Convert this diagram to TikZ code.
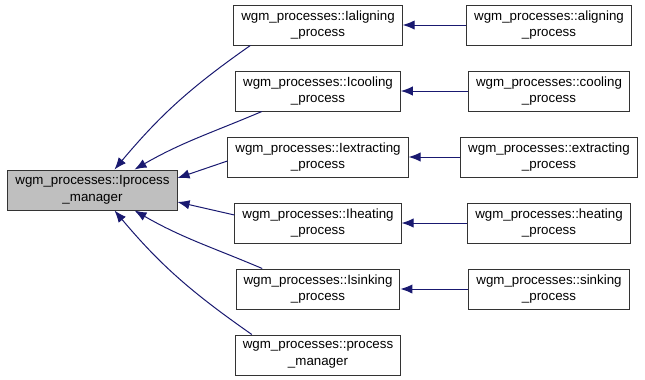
\documentclass[tikz,border=0pt]{standalone}
\usepackage{fontspec}
\setmainfont{Liberation Sans}
\usepackage{xcolor}
\usetikzlibrary{shapes,arrows.meta,positioning}

\definecolor{edgeblue}{HTML}{191970}
\definecolor{basegray}{HTML}{BFBFBF}

\begin{document}
\begin{tikzpicture}[x=0.75pt, y=-0.75pt, node distance=49.5pt,
  box/.style={draw=black!80, line width=0.75pt, rectangle, fill=white, align=center,
    minimum height=30pt, inner xsep=5.6pt, font=\fontsize{10}{12.6}\selectfont},
  inherit/.style={draw=edgeblue, line width=0.75pt, -{Latex[length=9pt,width=7pt]}}]
\useasboundingbox (0,0) rectangle (645,379);

\node (mgr) [box, fill=basegray] at (92.5,190) {wgm\_processes::Iprocess\\\_manager};

% interfaces
\node (ialign) [box] at (318,25) {wgm\_processes::Ialigning\\\_process};
\node (icool) [box, below of=ialign] {wgm\_processes::Icooling\\\_process};
\node (iextract) [box, below of=icool] {wgm\_processes::Iextracting\\\_process};
\node (iheat) [box, below of=iextract] {wgm\_processes::Iheating\\\_process};
\node (isink) [box, below of=iheat] {wgm\_processes::Isinking\\\_process};
\node (pmgr) [box, below of=isink] {wgm\_processes::process\\\_manager};

% implementations
\node (align) [box, node distance=173.25pt, right of=ialign] {wgm\_processes::aligning\\\_process};
\node (cool) [box, node distance=173.25pt, right of=icool] {wgm\_processes::cooling\\\_process};
\node (extract) [box, node distance=173.25pt, right of=iextract] {wgm\_processes::extracting\\\_process};
\node (heat) [box, node distance=173.25pt, right of=iheat] {wgm\_processes::heating\\\_process};
\node (sink) [box, node distance=173.25pt, right of=isink] {wgm\_processes::sinking\\\_process};

\draw[inherit] ([xshift=12.75pt]ialign.south west) to[out=215,in=50] ([xshift=16.5pt]mgr.north);
\draw[inherit] ([xshift=20pt]icool.south west) to[out=203,in=30] ([xshift=31.5pt]mgr.north);
\draw[inherit] ([yshift=-3pt]iextract.west) -- ([yshift=9pt]mgr.east);
\draw[inherit] ([yshift=6pt]iheat.west) -- ([yshift=-9pt]mgr.east);
\draw[inherit] ([xshift=20pt]isink.north west) to[out=157,in=-30] ([xshift=31.5pt]mgr.south);
\draw[inherit] ([xshift=12.75pt]pmgr.north west) to[out=145,in=-50] ([xshift=16.5pt]mgr.south);

\draw[inherit] (align) -- (ialign);
\draw[inherit] (cool) -- (icool);
\draw[inherit] (extract) -- (iextract);
\draw[inherit] (heat) -- (iheat);
\draw[inherit] (sink) -- (isink);
\end{tikzpicture}
\end{document}
